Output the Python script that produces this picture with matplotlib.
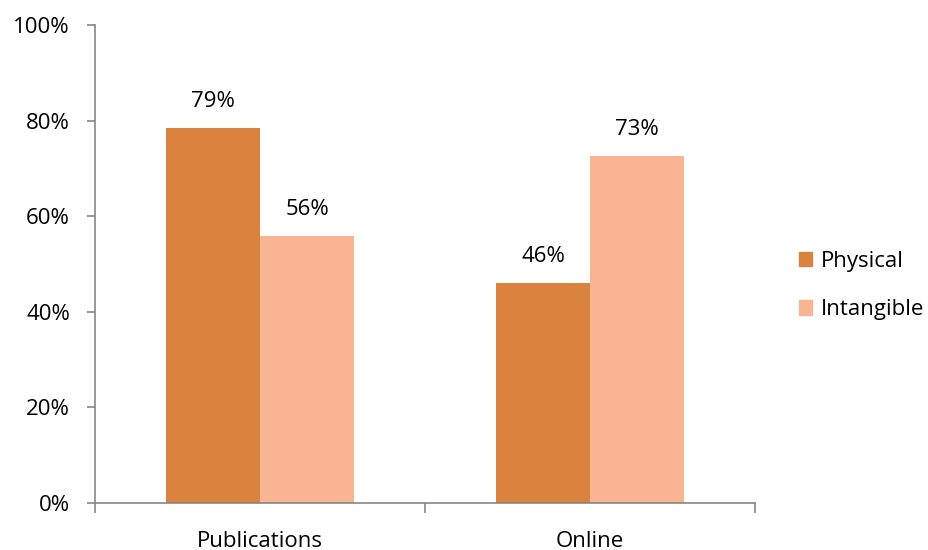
import numpy as np
import matplotlib.pyplot as plt
from matplotlib.patches import Patch

plt.rcParams['font.family'] = ['Open Sans', 'DejaVu Sans']

categories = ['Publications', 'Online']
physical = [0.785, 0.46]
intangible = [0.558, 0.726]
physical_labels = ['79%', '46%']
intangible_labels = ['56%', '73%']

c_phys = '#DA833E'
c_int = '#F9B592'
axis_c = '#868686'
fs = 16

fig = plt.figure(figsize=(9.29, 5.5), dpi=100)
ax = fig.add_axes([0.1023, 0.0855, 0.7104, 0.869])

x = np.arange(len(categories))
w = 0.285
b1 = ax.bar(x - w / 2, physical, w, color=c_phys)
b2 = ax.bar(x + w / 2, intangible, w, color=c_int)

for bars, labs in ((b1, physical_labels), (b2, intangible_labels)):
    for bar, lab in zip(bars, labs):
        ax.annotate(lab, (bar.get_x() + bar.get_width() / 2, bar.get_height()),
                    xytext=(0, 19), textcoords='offset points',
                    ha='center', va='center', fontsize=fs)

ax.set_xlim(-0.5, 1.5)
ax.set_ylim(0, 1)
ax.set_yticks(np.arange(0, 1.01, 0.2))
ax.set_yticklabels([f'{int(round(v * 100))}%' for v in np.arange(0, 1.01, 0.2)], fontsize=fs)
ax.set_xticks(x)
ax.set_xticklabels(categories, fontsize=fs)
ax.set_xticks([-0.5, 0.5, 1.5], minor=True)
ax.tick_params(axis='x', which='major', length=0, pad=20)
ax.tick_params(axis='x', which='minor', length=7, color=axis_c, width=1.2)
ax.tick_params(axis='y', length=6, color=axis_c, width=1.2, pad=12)

for s in ('top', 'right'):
    ax.spines[s].set_visible(False)
for s in ('left', 'bottom'):
    ax.spines[s].set_color(axis_c)
    ax.spines[s].set_linewidth(1.2)

handles = [Patch(color=c_phys, label='Physical'), Patch(color=c_int, label='Intangible')]
fig.legend(handles=handles, loc='center left', bbox_to_anchor=(0.848, 0.481),
           frameon=False, fontsize=fs, handlelength=0.6, handleheight=0.6,
           handletextpad=0.4, labelspacing=1.25, borderpad=0)

fig.savefig('out.png', dpi=100)
